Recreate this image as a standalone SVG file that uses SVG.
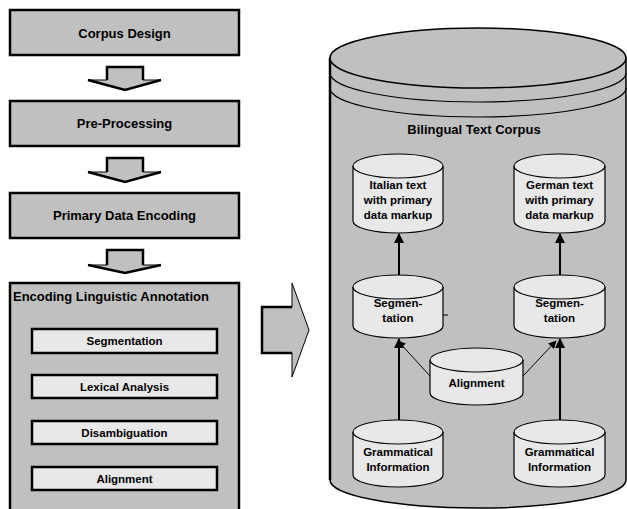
<svg xmlns="http://www.w3.org/2000/svg" width="627" height="509" viewBox="0 0 627 509">
<style>
text{font-family:"Liberation Sans",Arial,sans-serif;font-weight:bold;fill:#000;text-anchor:middle}
.big{font-size:13px}
.sm{font-size:11.5px}
.box{fill:#c0c0c0;stroke:#000;stroke-width:2.5}
.inner{fill:#e8e8e8;stroke:#000;stroke-width:2.5}
.cyl{fill:#e8e8e8;stroke:#000;stroke-width:1.2}
.line{stroke:#000;stroke-width:1.2;fill:none}
.thick{stroke:#000;stroke-width:2.5;fill:none}
.conn{stroke:#000;stroke-width:2;fill:none}
.diag{stroke:#000;stroke-width:1;fill:none}
</style>
<defs>
<marker id="ah" viewBox="0 0 10 10" refX="9" refY="5" markerWidth="8" markerHeight="8" markerUnits="userSpaceOnUse" orient="auto">
<path d="M0,0 L10,5 L0,10 Z" fill="#000"/>
</marker>
<marker id="ah2" viewBox="0 0 10 10" refX="9" refY="5" markerWidth="10" markerHeight="10" markerUnits="userSpaceOnUse" orient="auto">
<path d="M0,0 L10,5 L0,10 Z" fill="#000"/>
</marker>
</defs>

<g id="corpus-design">
<rect class="box" x="10" y="10" width="229" height="45"/>
<text class="big" x="124.5" y="38">Corpus Design</text>
</g>
<g id="arrow1">
<polygon points="107,67 143,67 143,80 161,80 125,90 88,80 107,80" fill="#c0c0c0" stroke="#000" stroke-width="1"/>
<polyline points="88,80 125,90 161,80" class="thick" stroke-width="2"/>
<polyline points="107,80 107,67 143,67 143,80" class="thick" stroke-width="2"/>
</g>
<g id="pre-processing">
<rect class="box" x="10" y="101" width="229" height="45"/>
<text class="big" x="124.5" y="128">Pre-Processing</text>
</g>
<g id="arrow2">
<polygon points="107,158 143,158 143,172 161,172 125,182 88,172 107,172" fill="#c0c0c0" stroke="#000" stroke-width="1"/>
<polyline points="88,172 125,182 161,172" class="thick" stroke-width="2"/>
<polyline points="107,172 107,158 143,158 143,172" class="thick" stroke-width="2"/>
</g>
<g id="primary-data-encoding">
<rect class="box" x="10" y="193" width="229" height="45"/>
<text class="big" x="124.5" y="220">Primary Data Encoding</text>
</g>
<g id="arrow3">
<polygon points="107,250 143,250 143,265 161,265 125,273 88,265 107,265" fill="#c0c0c0" stroke="#000" stroke-width="1"/>
<polyline points="88,265 125,273 161,265" class="thick" stroke-width="2"/>
<polyline points="107,265 107,250 143,250 143,265" class="thick" stroke-width="2"/>
</g>
<g id="encoding-linguistic-annotation">
<rect class="box" x="10" y="283" width="229" height="240"/>
<text class="big" x="13" y="301" style="text-anchor:start">Encoding Linguistic Annotation</text>
</g>
<g id="la-segmentation">
<rect class="inner" x="32" y="329" width="185" height="24"/>
<text class="sm" x="124.5" y="345">Segmentation</text>
</g>
<g id="la-lexical">
<rect class="inner" x="32" y="375" width="185" height="23"/>
<text class="sm" x="124.5" y="391">Lexical Analysis</text>
</g>
<g id="la-disambiguation">
<rect class="inner" x="32" y="421" width="185" height="23"/>
<text class="sm" x="124.5" y="437">Disambiguation</text>
</g>
<g id="la-alignment">
<rect class="inner" x="32" y="467" width="185" height="23"/>
<text class="sm" x="124.5" y="483">Alignment</text>
</g>

<g id="big-arrow">
<polygon points="262,307 292,307 292,283 309,330 292,377 292,353 262,353" fill="#c0c0c0" stroke="#000" stroke-width="1"/>
<polyline points="292,307 262,307 262,353 292,353" class="thick" stroke-width="2"/>
</g>

<g id="bilingual-text-corpus">
<path d="M330,58 L330,480 A148,28 0 0 0 626,480 L626,58 Z" fill="#c0c0c0" stroke="#000" stroke-width="1.5"/>
<line x1="330" y1="58" x2="330" y2="480" stroke="#000" stroke-width="2.5"/>
<ellipse cx="478" cy="58" rx="148" ry="30" fill="#c0c0c0" stroke="#000" stroke-width="1.5"/>
<path class="line" stroke-width="1.5" d="M330,73 A148,29 0 0 0 626,73"/>
<path class="line" stroke-width="1.5" d="M330,88 A148,29 0 0 0 626,88"/>
<text class="big" x="474" y="134">Bilingual Text Corpus</text>
</g>

<g id="italian-text">
<path class="cyl" d="M353,166 L353,221 A45,12 0 0 0 443,221 L443,166"/>
<ellipse class="cyl" cx="398" cy="166" rx="45" ry="12"/>
<text class="sm" x="398" y="189">Italian text</text>
<text class="sm" x="398" y="204">with primary</text>
<text class="sm" x="398" y="219">data markup</text>
</g>
<g id="german-text">
<path class="cyl" d="M514,166 L514,221 A45.5,12 0 0 0 605,221 L605,166"/>
<ellipse class="cyl" cx="559.5" cy="166" rx="45.5" ry="12"/>
<text class="sm" x="559.5" y="189">German text</text>
<text class="sm" x="559.5" y="204">with primary</text>
<text class="sm" x="559.5" y="219">data markup</text>
</g>
<g id="segmentation-it">
<path class="cyl" d="M353,287 L353,326 A45,12 0 0 0 443,326 L443,287"/>
<ellipse class="cyl" cx="398" cy="287" rx="45" ry="12"/>
<text class="sm" x="398" y="307">Segmen-</text>
<text class="sm" x="398" y="322">tation</text>
<line x1="443" y1="315" x2="448" y2="315" stroke="#000" stroke-width="1"/>
</g>
<g id="segmentation-de">
<path class="cyl" d="M514,287 L514,326 A45.5,12 0 0 0 605,326 L605,287"/>
<ellipse class="cyl" cx="559.5" cy="287" rx="45.5" ry="12"/>
<text class="sm" x="559.5" y="307">Segmen-</text>
<text class="sm" x="559.5" y="322">tation</text>
</g>
<g id="alignment">
<path class="cyl" d="M430,360 L430,393 A46.5,12 0 0 0 523,393 L523,360"/>
<ellipse class="cyl" cx="476.5" cy="360" rx="46.5" ry="12"/>
<text class="sm" x="476.5" y="387">Alignment</text>
</g>
<g id="grammatical-it">
<path class="cyl" d="M353,432 L353,475 A45,12 0 0 0 443,475 L443,432"/>
<ellipse class="cyl" cx="398" cy="432" rx="45" ry="12"/>
<text class="sm" x="398" y="456">Grammatical</text>
<text class="sm" x="398" y="471">Information</text>
</g>
<g id="grammatical-de">
<path class="cyl" d="M514,432 L514,475 A45.5,12 0 0 0 605,475 L605,432"/>
<ellipse class="cyl" cx="559.5" cy="432" rx="45.5" ry="12"/>
<text class="sm" x="559.5" y="456">Grammatical</text>
<text class="sm" x="559.5" y="471">Information</text>
</g>

<g id="connectors">
<line class="conn" x1="399" y1="275" x2="399" y2="234" marker-end="url(#ah2)"/>
<line class="conn" x1="560" y1="275" x2="560" y2="234" marker-end="url(#ah2)"/>
<line class="conn" x1="399" y1="420" x2="399" y2="339" marker-end="url(#ah2)"/>
<line class="conn" x1="560" y1="420" x2="560" y2="339" marker-end="url(#ah2)"/>
<line class="diag" x1="430" y1="376" x2="398" y2="341" marker-end="url(#ah)"/>
<line class="diag" x1="523" y1="376" x2="556" y2="341" marker-end="url(#ah)"/>
</g>
</svg>
